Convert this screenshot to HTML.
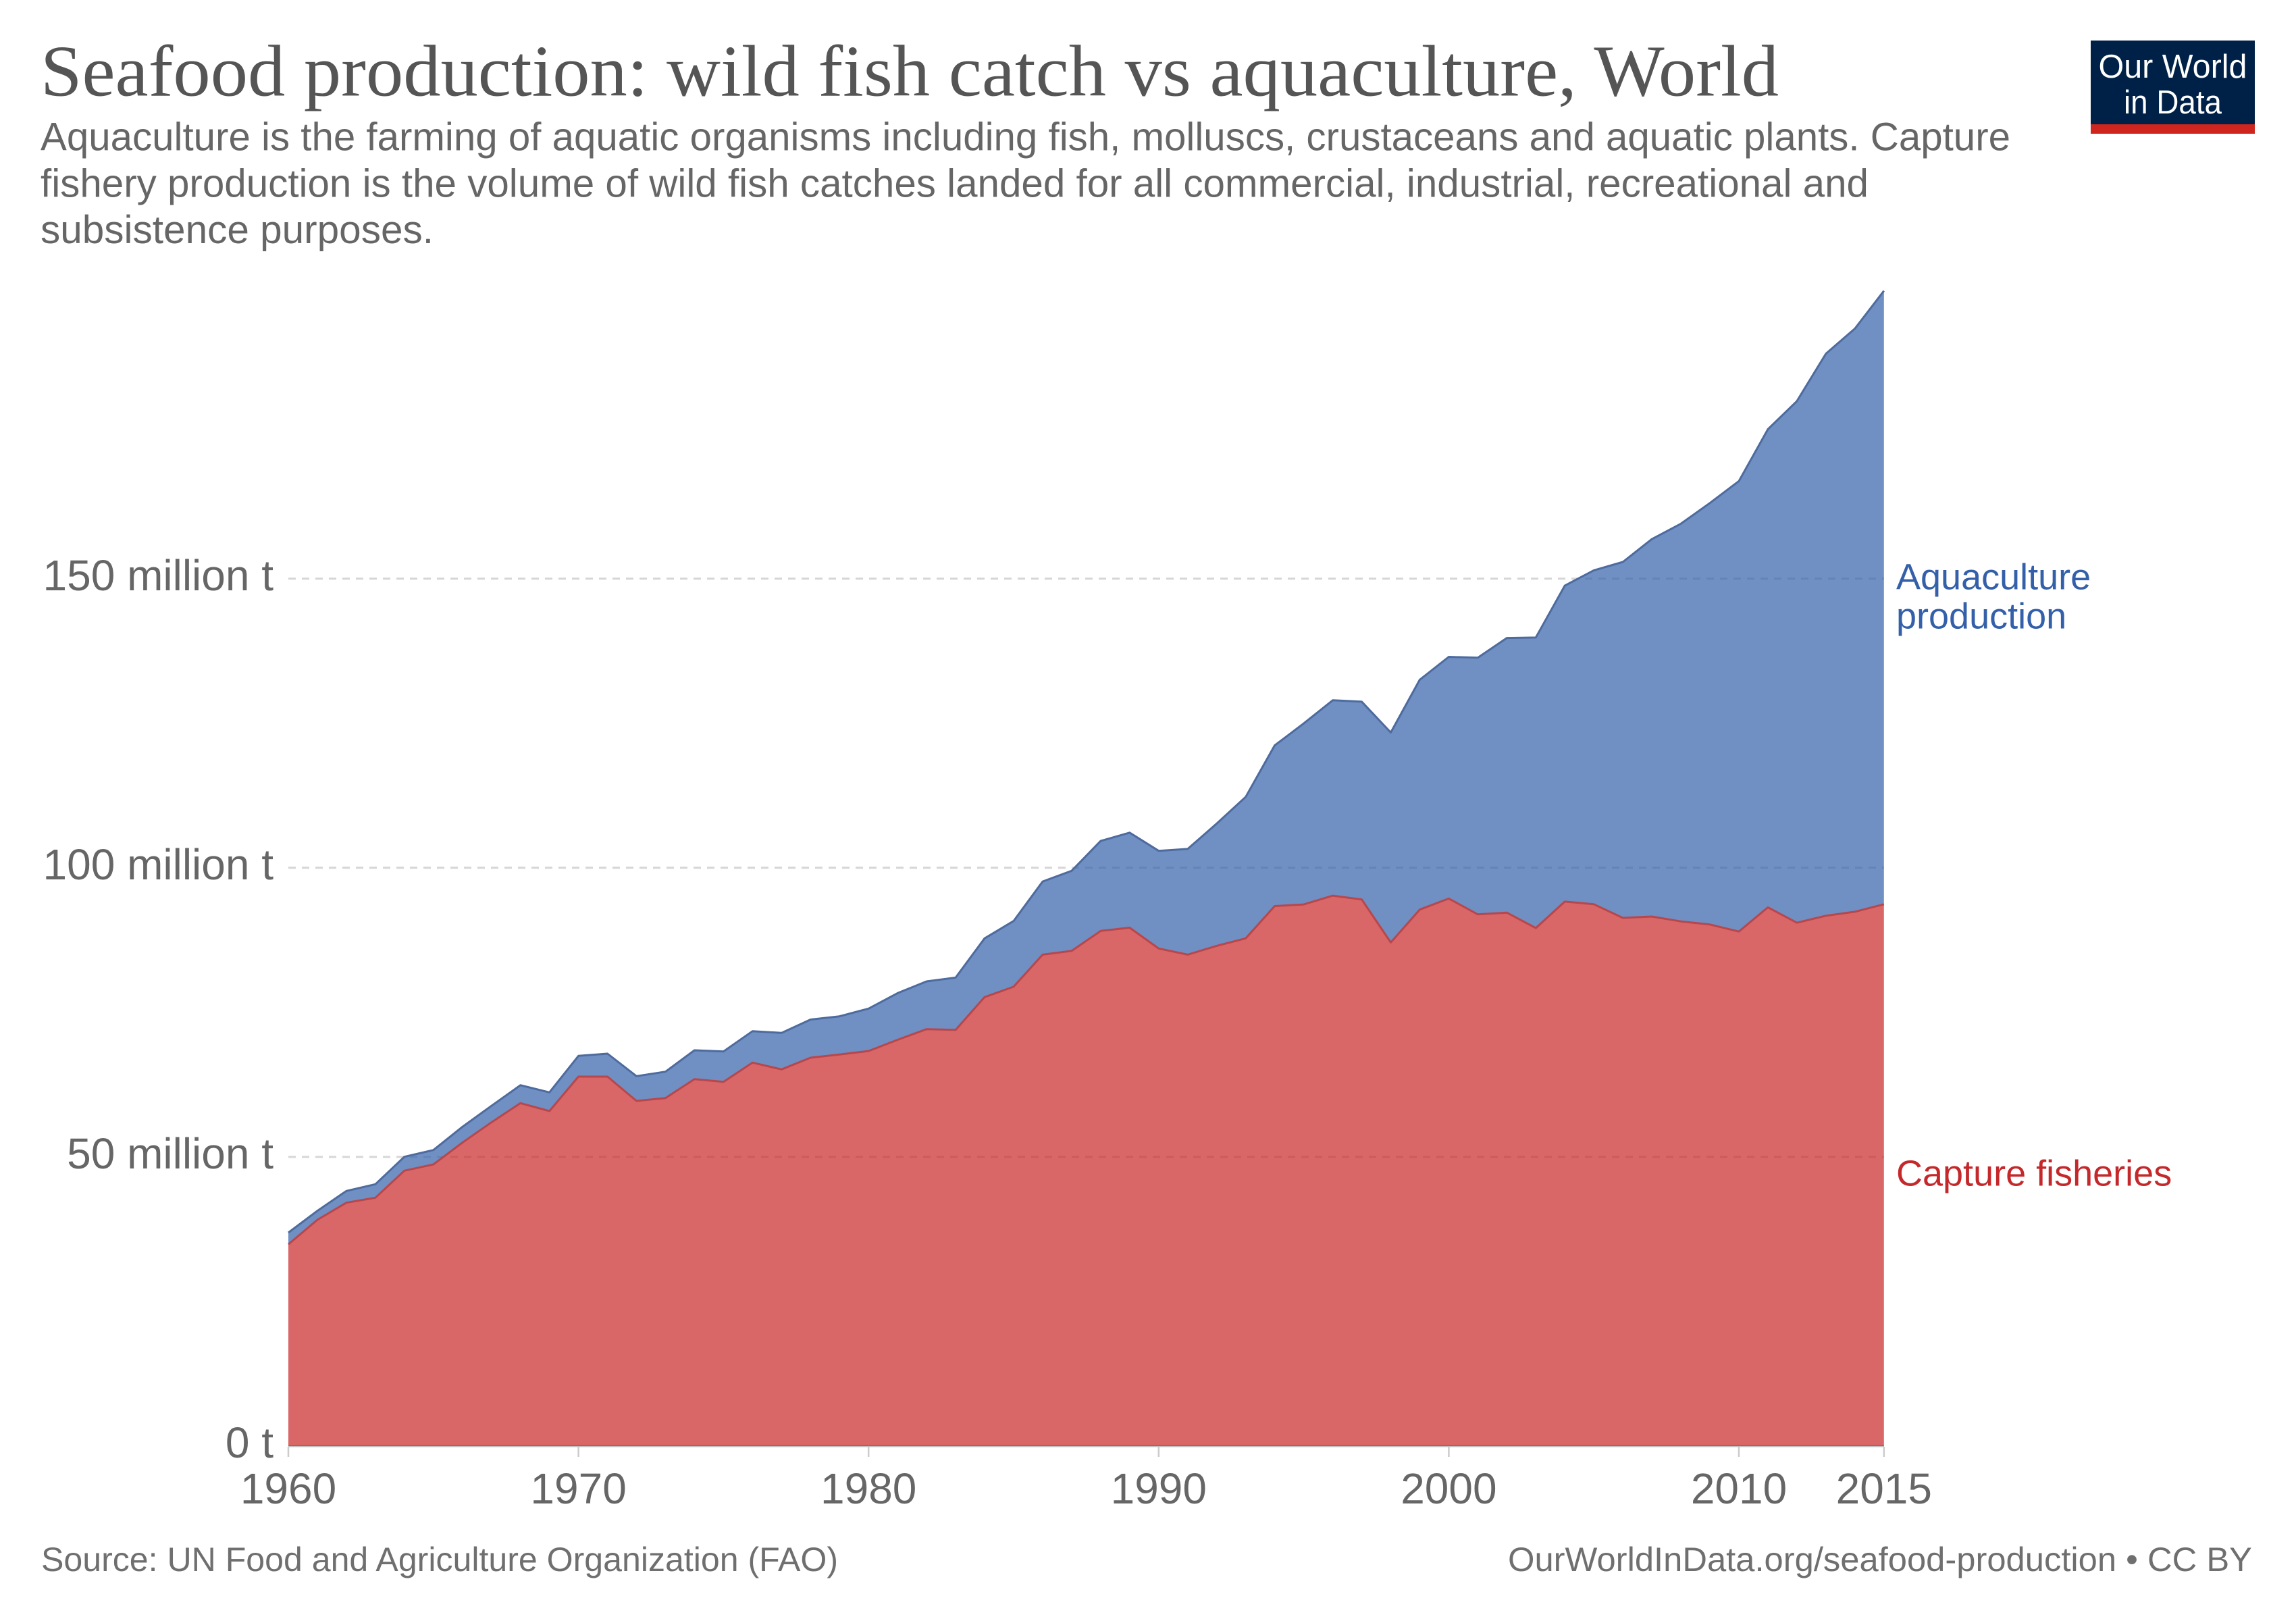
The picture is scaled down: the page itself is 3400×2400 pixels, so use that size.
<!DOCTYPE html>
<html>
<head>
<meta charset="utf-8">
<style>
  html, body { margin: 0; padding: 0; background: #ffffff; }
  svg { display: block; }
</style>
</head>
<body>
<svg xmlns="http://www.w3.org/2000/svg" width="3400" height="2400" viewBox="0 0 3400 2400">
  <rect x="0" y="0" width="3400" height="2400" fill="#ffffff"/>

  <!-- Title & subtitle -->
  <text x="60" y="141.7" font-family="'Liberation Serif', serif" font-size="108" fill="#555555" textLength="2574" lengthAdjust="spacingAndGlyphs">Seafood production: wild fish catch vs aquaculture, World</text>
  <g font-family="'Liberation Sans', sans-serif" font-size="58" fill="#666666">
    <text x="60" y="222.7" textLength="2917" lengthAdjust="spacingAndGlyphs">Aquaculture is the farming of aquatic organisms including fish, molluscs, crustaceans and aquatic plants. Capture</text>
    <text x="60" y="291.5" textLength="2707" lengthAdjust="spacingAndGlyphs">fishery production is the volume of wild fish catches landed for all commercial, industrial, recreational and</text>
    <text x="60" y="360" textLength="582" lengthAdjust="spacingAndGlyphs">subsistence purposes.</text>
  </g>

  <!-- Logo -->
  <rect x="3096" y="60" width="243" height="124" fill="#002147"/>
  <rect x="3096" y="184" width="243" height="14" fill="#ce261e"/>
  <g font-family="'Liberation Sans', sans-serif" font-size="49" fill="#ffffff" text-anchor="middle">
    <text x="3217.5" y="115" textLength="220" lengthAdjust="spacingAndGlyphs">Our World</text>
    <text x="3217.5" y="168" textLength="145" lengthAdjust="spacingAndGlyphs">in Data</text>
  </g>

  <!-- Gridlines -->
  <g stroke="#d6d6d6" stroke-width="3" stroke-dasharray="11,9">
    <line x1="427" y1="856.7" x2="2790" y2="856.7"/>
    <line x1="427" y1="1284.8" x2="2790" y2="1284.8"/>
    <line x1="427" y1="1712.9" x2="2790" y2="1712.9"/>
  </g>
  <!-- Axis line -->
  <line x1="427" y1="2141" x2="2790" y2="2141" stroke="#bdbdbd" stroke-width="3"/>

  <!-- Capture fisheries area -->
  <path fill="#ca2628" fill-opacity="0.7" d="M427,2141 L427.0,1842.3 L470.0,1806.0 L512.9,1780.7 L555.9,1773.3 L598.8,1733.3 L641.8,1724.0 L684.8,1691.7 L727.7,1661.7 L770.7,1633.3 L813.6,1645.0 L856.6,1594.0 L899.6,1594.0 L942.5,1630.0 L985.5,1625.7 L1028.4,1597.7 L1071.4,1601.7 L1114.4,1573.3 L1157.3,1583.3 L1200.3,1566.0 L1243.2,1561.3 L1286.2,1556.1 L1329.2,1539.5 L1372.1,1523.7 L1415.1,1524.9 L1458.0,1476.3 L1501.0,1460.9 L1544.0,1413.4 L1586.9,1407.9 L1629.9,1378.3 L1672.8,1373.5 L1715.8,1404.3 L1758.8,1413.4 L1801.7,1400.4 L1844.7,1389.3 L1887.6,1341.5 L1930.6,1339.1 L1973.6,1326.1 L2016.5,1331.7 L2059.5,1395.4 L2102.4,1346.7 L2145.4,1330.4 L2188.4,1353.8 L2231.3,1351.2 L2274.3,1374.0 L2317.2,1334.9 L2360.2,1338.8 L2403.2,1359.0 L2446.1,1357.0 L2489.1,1364.2 L2532.0,1368.8 L2575.0,1379.2 L2618.0,1343.4 L2660.9,1366.2 L2703.9,1355.8 L2746.8,1349.9 L2789.8,1338.8 L2789.8,2141 Z"/>

  <!-- Aquaculture area -->
  <path fill="#3360a9" fill-opacity="0.7" d="M427.0,1825.0 L470.0,1792.7 L512.9,1763.3 L555.9,1753.3 L598.8,1712.7 L641.8,1702.7 L684.8,1668.3 L727.7,1637.3 L770.7,1606.7 L813.6,1617.3 L856.6,1563.3 L899.6,1560.0 L942.5,1593.3 L985.5,1586.7 L1028.4,1555.0 L1071.4,1556.7 L1114.4,1526.7 L1157.3,1529.3 L1200.3,1509.5 L1243.2,1504.7 L1286.2,1493.3 L1329.2,1470.4 L1372.1,1453.0 L1415.1,1447.4 L1458.0,1389.3 L1501.0,1363.6 L1544.0,1305.1 L1586.9,1289.3 L1629.9,1245.1 L1672.8,1232.8 L1715.8,1259.7 L1758.8,1256.9 L1801.7,1219.4 L1844.7,1179.8 L1887.6,1103.6 L1930.6,1071.1 L1973.6,1036.8 L2016.5,1038.9 L2059.5,1084.5 L2102.4,1006.4 L2145.4,972.5 L2188.4,973.8 L2231.3,944.6 L2274.3,943.9 L2317.2,867.1 L2360.2,844.4 L2403.2,832.0 L2446.1,798.2 L2489.1,775.4 L2532.0,744.8 L2575.0,712.3 L2618.0,635.5 L2660.9,593.9 L2703.9,523.6 L2746.8,486.5 L2789.8,430.6 L2789.8,1338.8 L2746.8,1349.9 L2703.9,1355.8 L2660.9,1366.2 L2618.0,1343.4 L2575.0,1379.2 L2532.0,1368.8 L2489.1,1364.2 L2446.1,1357.0 L2403.2,1359.0 L2360.2,1338.8 L2317.2,1334.9 L2274.3,1374.0 L2231.3,1351.2 L2188.4,1353.8 L2145.4,1330.4 L2102.4,1346.7 L2059.5,1395.4 L2016.5,1331.7 L1973.6,1326.1 L1930.6,1339.1 L1887.6,1341.5 L1844.7,1389.3 L1801.7,1400.4 L1758.8,1413.4 L1715.8,1404.3 L1672.8,1373.5 L1629.9,1378.3 L1586.9,1407.9 L1544.0,1413.4 L1501.0,1460.9 L1458.0,1476.3 L1415.1,1524.9 L1372.1,1523.7 L1329.2,1539.5 L1286.2,1556.1 L1243.2,1561.3 L1200.3,1566.0 L1157.3,1583.3 L1114.4,1573.3 L1071.4,1601.7 L1028.4,1597.7 L985.5,1625.7 L942.5,1630.0 L899.6,1594.0 L856.6,1594.0 L813.6,1645.0 L770.7,1633.3 L727.7,1661.7 L684.8,1691.7 L641.8,1724.0 L598.8,1733.3 L555.9,1773.3 L512.9,1780.7 L470.0,1806.0 L427.0,1842.3 Z"/>

  <!-- Top strokes -->
  <polyline fill="none" stroke="#4d6b9e" stroke-width="3" stroke-linejoin="round" points="427.0,1825.0 470.0,1792.7 512.9,1763.3 555.9,1753.3 598.8,1712.7 641.8,1702.7 684.8,1668.3 727.7,1637.3 770.7,1606.7 813.6,1617.3 856.6,1563.3 899.6,1560.0 942.5,1593.3 985.5,1586.7 1028.4,1555.0 1071.4,1556.7 1114.4,1526.7 1157.3,1529.3 1200.3,1509.5 1243.2,1504.7 1286.2,1493.3 1329.2,1470.4 1372.1,1453.0 1415.1,1447.4 1458.0,1389.3 1501.0,1363.6 1544.0,1305.1 1586.9,1289.3 1629.9,1245.1 1672.8,1232.8 1715.8,1259.7 1758.8,1256.9 1801.7,1219.4 1844.7,1179.8 1887.6,1103.6 1930.6,1071.1 1973.6,1036.8 2016.5,1038.9 2059.5,1084.5 2102.4,1006.4 2145.4,972.5 2188.4,973.8 2231.3,944.6 2274.3,943.9 2317.2,867.1 2360.2,844.4 2403.2,832.0 2446.1,798.2 2489.1,775.4 2532.0,744.8 2575.0,712.3 2618.0,635.5 2660.9,593.9 2703.9,523.6 2746.8,486.5 2789.8,430.6"/>
  <polyline fill="none" stroke="#b8474b" stroke-width="3" stroke-linejoin="round" points="427.0,1842.3 470.0,1806.0 512.9,1780.7 555.9,1773.3 598.8,1733.3 641.8,1724.0 684.8,1691.7 727.7,1661.7 770.7,1633.3 813.6,1645.0 856.6,1594.0 899.6,1594.0 942.5,1630.0 985.5,1625.7 1028.4,1597.7 1071.4,1601.7 1114.4,1573.3 1157.3,1583.3 1200.3,1566.0 1243.2,1561.3 1286.2,1556.1 1329.2,1539.5 1372.1,1523.7 1415.1,1524.9 1458.0,1476.3 1501.0,1460.9 1544.0,1413.4 1586.9,1407.9 1629.9,1378.3 1672.8,1373.5 1715.8,1404.3 1758.8,1413.4 1801.7,1400.4 1844.7,1389.3 1887.6,1341.5 1930.6,1339.1 1973.6,1326.1 2016.5,1331.7 2059.5,1395.4 2102.4,1346.7 2145.4,1330.4 2188.4,1353.8 2231.3,1351.2 2274.3,1374.0 2317.2,1334.9 2360.2,1338.8 2403.2,1359.0 2446.1,1357.0 2489.1,1364.2 2532.0,1368.8 2575.0,1379.2 2618.0,1343.4 2660.9,1366.2 2703.9,1355.8 2746.8,1349.9 2789.8,1338.8"/>

  <!-- X ticks -->
  <g stroke="#cccccc" stroke-width="2.5">
    <line x1="427" y1="2142" x2="427" y2="2157"/>
    <line x1="856.6" y1="2142" x2="856.6" y2="2157"/>
    <line x1="1286.2" y1="2142" x2="1286.2" y2="2157"/>
    <line x1="1715.8" y1="2142" x2="1715.8" y2="2157"/>
    <line x1="2145.4" y1="2142" x2="2145.4" y2="2157"/>
    <line x1="2575" y1="2142" x2="2575" y2="2157"/>
    <line x1="2789.8" y1="2142" x2="2789.8" y2="2157"/>
  </g>

  <!-- Y labels -->
  <g font-family="'Liberation Sans', sans-serif" font-size="64" fill="#666666" text-anchor="end">
    <text x="405" y="874">150 million t</text>
    <text x="405" y="1302">100 million t</text>
    <text x="405" y="1730">50 million t</text>
    <text x="405" y="2158">0 t</text>
  </g>

  <!-- X labels -->
  <g font-family="'Liberation Sans', sans-serif" font-size="64" fill="#666666" text-anchor="middle">
    <text x="427" y="2226">1960</text>
    <text x="856.6" y="2226">1970</text>
    <text x="1286.2" y="2226">1980</text>
    <text x="1715.8" y="2226">1990</text>
    <text x="2145.4" y="2226">2000</text>
    <text x="2575" y="2226">2010</text>
    <text x="2789.8" y="2226">2015</text>
  </g>

  <!-- Series labels -->
  <g font-family="'Liberation Sans', sans-serif" font-size="54">
    <text x="2808" y="872.7" fill="#3360a9">Aquaculture</text>
    <text x="2808" y="930.7" fill="#3360a9">production</text>
    <text x="2808" y="1755.5" fill="#c4282a">Capture fisheries</text>
  </g>

  <!-- Footer -->
  <g font-family="'Liberation Sans', sans-serif" font-size="50" fill="#6f6f6f">
    <text x="61" y="2326" textLength="1180" lengthAdjust="spacingAndGlyphs">Source: UN Food and Agriculture Organization (FAO)</text>
    <text x="2233" y="2326" textLength="1102" lengthAdjust="spacingAndGlyphs">OurWorldInData.org/seafood-production • CC BY</text>
  </g>
</svg>
</body>
</html>
